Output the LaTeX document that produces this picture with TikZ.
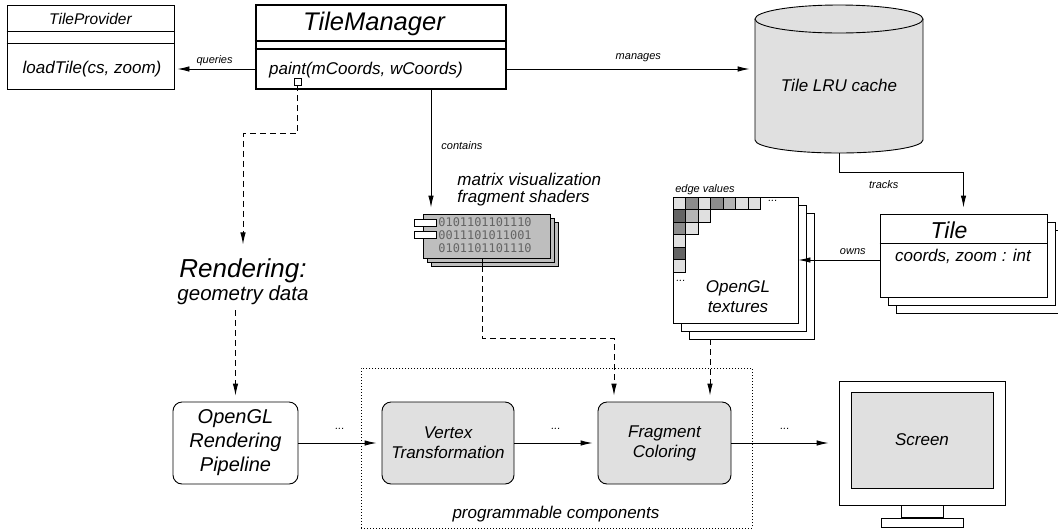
\documentclass[tikz,border=0pt]{standalone}
\usepackage{fontspec}
\setmainfont{Liberation Sans}
\newfontfamily\bitsfont{DejaVu Sans Mono}
\usetikzlibrary{arrows.meta,positioning}
\definecolor{lightgrey}{HTML}{E0E0E0}
\definecolor{shadegrey}{HTML}{BEBEBE}
\definecolor{midgrey}{HTML}{B4B4B4}
\definecolor{stonegrey}{HTML}{8C8C8C}
\definecolor{darkgrey}{HTML}{646464}

\begin{document}
\begin{tikzpicture}[x=1pt,y=-1pt,line width=0.9pt]
\tikzset{every node/.style={font=\itshape\fontsize{17}{20}\selectfont,inner sep=0pt}}
\tikzset{box/.style={draw,fill=white,inner sep=0pt}}
\tikzset{stagebox/.style={draw,rounded corners=9pt,minimum height=82pt,align=center}}
\tikzset{lbl/.style={font=\itshape\fontsize{11}{12}\selectfont}}
\tikzset{arr/.style={-{Latex[length=12pt,width=5.5pt]}}}
\tikzset{dasharr/.style={arr,dash pattern=on 6pt off 4pt,shorten >=6pt}}
\useasboundingbox (0,0) rectangle (1058,531);

\node[box,minimum width=167pt,minimum height=84pt] (prov) at (90.5,47) {};
\node[font=\itshape\fontsize{15.5}{18}\selectfont] (provname) at (90.5,19) {TileProvider};
\draw (prov.west |- 0,31) -- (prov.east |- 0,31);
\draw (prov.west |- 0,43) -- (prov.east |- 0,43);
\node (loadtile) at (92,69) {loadTile(cs, zoom)};

\node[box,line width=2.6pt,minimum width=250pt,minimum height=84pt] (tm) at (381,47) {};
\node[font=\itshape\fontsize{25.5}{28}\selectfont] (tmname) at (374,24) {TileManager};
\draw[line width=1.2pt] (tm.west |- 0,41) -- (tm.east |- 0,41);
\draw[line width=1.2pt] (tm.west |- 0,49) -- (tm.east |- 0,49);
\node (paint) at (366,70) {paint(mCoords, wCoords)};
\node[box,line width=0.8pt,minimum size=7pt] (port) at (297.5,81.5) {};

\draw[fill=lightgrey] (755,19) -- (755,140) arc[start angle=180,end angle=360,x radius=84pt,y radius=13pt] -- (923,19);
\draw[fill=lightgrey] (839,19) ellipse[x radius=84pt,y radius=14pt];
\node[minimum width=168pt,minimum height=148pt] (cache) at (839,79) {};
\node (cachename) at (839,85) {Tile LRU cache};

\foreach \s/\n in {16/tile3,8/tile2}
  \node[box,minimum width=167pt,minimum height=83pt] (\n) at (963.5+\s,255.5+\s) {};
\node[box,minimum width=167pt,minimum height=83pt] (tile) at (963.5,255.5) {};
\draw (tile.west |- 0,243) -- (tile.east |- 0,243);
\node[font=\itshape\fontsize{23}{26}\selectfont] (tilename) at (949,230) {Tile};
\node (tilefields) at (963,256) {coords, zoom : int};

\foreach \s/\n in {16/tex3,8/tex2}
  \node[box,minimum width=125pt,minimum height=126pt] (\n) at (735.5+\s,260+\s) {};
\node[box,minimum width=125pt,minimum height=126pt] (tex) at (735.5,260) {};
\foreach \i/\j/\c in {0/0/lightgrey,1/0/stonegrey,2/0/lightgrey,3/0/stonegrey,4/0/midgrey,5/0/lightgrey,6/0/lightgrey,
  0/1/darkgrey,1/1/midgrey,2/1/lightgrey,0/2/stonegrey,1/2/lightgrey,0/3/lightgrey,0/4/darkgrey,0/5/lightgrey}
  \draw[fill=\c] (673+\i*12.5,197+\j*12.5) rectangle ++(12.5,12.5);
\node[lbl] (rowdots) at (773,201) {...};
\node[lbl] (coldots) at (681,281) {...};
\node[lbl] (edgeval) at (705,190) {edge values};
\node[align=center] (texname) at (738,297) {OpenGL\\textures};

\foreach \s/\n in {8/shader3,4/shader2}
  \node[box,fill=shadegrey,minimum width=127pt,minimum height=44pt] (\n) at (486.5+\s,236+\s) {};
\node[box,fill=shadegrey,minimum width=127pt,minimum height=44pt] (shader) at (486.5,236) {};
\node[box,line width=0.8pt,minimum width=22pt,minimum height=7pt] (plug1) at (425,222.5) {};
\node[box,line width=0.8pt,minimum width=22pt,minimum height=7pt] (plug2) at (425,235) {};
\node[anchor=west,align=left,font=\bitsfont\fontsize{11.9}{13}\selectfont,text=darkgrey] (bits) at (438,235)
  {0101101101110\\0011101011001\\0101101101110};
\node[anchor=west,align=left,font=\itshape\fontsize{17}{17}\selectfont] (shadername) at (457,190)
  {matrix visualization\\fragment shaders};

\node[font=\itshape\fontsize{26}{28}\selectfont] (render) at (243,271) {Rendering:};
\node[font=\itshape\fontsize{20.5}{22}\selectfont] (geom) at (243,295) {geometry data};

\node[draw,dash pattern=on 1pt off 2pt,line width=0.8pt,minimum width=391pt,minimum height=160pt] (prog) at (556.5,448) {};
\node (progname) at (556,514) {programmable components};
\node[stagebox,fill=white,minimum width=125pt,font=\itshape\fontsize{20}{24}\selectfont] (ogl) at (235.5,443) {OpenGL\\Rendering\\Pipeline};
\node[stagebox,fill=lightgrey,minimum width=132pt] (vtx) at (448,443) {Vertex\\Transformation};
\node[stagebox,fill=lightgrey,minimum width=133pt] (frag) at (664.5,443) {Fragment\\Coloring};

\node[box,minimum width=166pt,minimum height=124pt] (monitor) at (922,443) {};
\node[box,fill=lightgrey,minimum width=142pt,minimum height=96pt] (screen) at (922,440) {Screen};
\node[box,anchor=north,minimum width=42pt,minimum height=12pt] (neck) at (monitor.south) {};
\node[box,anchor=north,minimum width=82pt,minimum height=9pt] (foot) at (neck.south) {};

\draw[arr,shorten >=3pt] (tm.west |- loadtile) -- node[lbl,above=3pt] {queries} (prov.east |- loadtile);
\draw[arr,shorten >=5pt] (tm.east |- loadtile) -- node[lbl,above=7pt,pos=0.53] {manages} (cache.west |- loadtile);
\draw[arr,shorten >=6pt] ([xshift=50pt]tm.south) -- node[lbl,right=10pt,pos=0.45] {contains} ([xshift=50pt]tm.south |- shader.north);
\draw[arr,shorten >=6pt] (cache.south) -- ++(0,19) -| node[lbl,below=8pt,pos=0.18] {tracks} (tile.north);
\draw[arr] ([yshift=-4.5pt]tile.west) -- node[lbl,above=5pt,pos=0.33] {owns} ([yshift=-4.5pt]tile.west -| tex.east);

\draw[dasharr,shorten >=14pt] (port.south) -- ++(0,48) -| (render.north);
\draw[dasharr,shorten <=5pt] (geom.south -| ogl.north) -- (ogl.north);
\draw ([xshift=-4.5pt]shader.south) -- ([xshift=-4.5pt]shader.south |- shader3.south);
\draw[dasharr] ([xshift=-4.5pt]shader.south |- shader3.south) -- ++(0,72) -| ([xshift=-50.5pt]frag.north);
\draw[dasharr] ([xshift=45.5pt]frag.north |- tex3.south) -- ([xshift=45.5pt]frag.north);

\draw[arr,shorten >=5pt] (ogl.east) -- node[lbl,above=13pt] {...} (vtx.west);
\draw[arr,shorten >=5pt] (vtx.east) -- node[lbl,above=13pt] {...} (frag.west);
\draw[arr,shorten >=10pt] (frag.east) -- node[lbl,above=13pt] {...} (monitor.west);
\end{tikzpicture}
\end{document}
